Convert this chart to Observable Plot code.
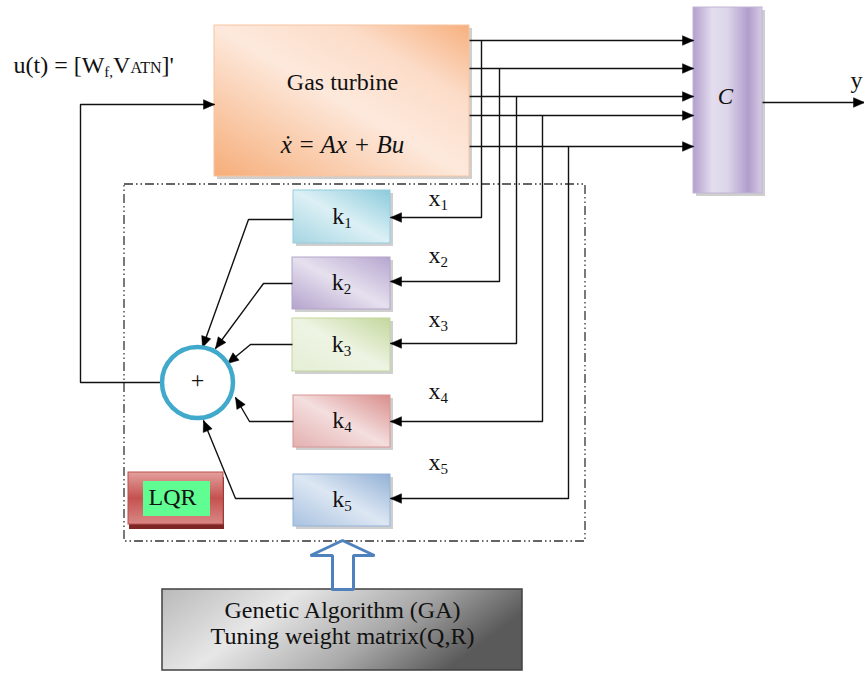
<!DOCTYPE html>
<html><head><meta charset="utf-8">
<script src="https://cdn.jsdelivr.net/npm/d3@7"></script>
<script src="https://cdn.jsdelivr.net/npm/@observablehq/plot@0.6"></script>
<style>body{margin:0;background:#fff}</style>
</head><body><div id="chart"></div>
<script>
// ---------- diagram content ----------
const blocks = [
  {id:"gt",  x1:214, y1:25,  x2:469, y2:176},
  {id:"c",   x1:693, y1:7,   x2:762, y2:193},
  {id:"k1",  x1:293, y1:190, x2:390, y2:243},
  {id:"k2",  x1:292, y1:257, x2:390, y2:309},
  {id:"k3",  x1:292, y1:318, x2:390, y2:371},
  {id:"k4",  x1:293, y1:395, x2:390, y2:447},
  {id:"k5",  x1:293, y1:474, x2:390, y2:526},
  {id:"lqr", x1:128, y1:472, x2:223, y2:524},
  {id:"ga",  x1:162, y1:589, x2:522, y2:670}
];
const lqrInner = [{x1:143, y1:481, x2:210, y2:516}];
const lqrBox = [{x1:124, y1:184, x2:585, y2:541}];
const sumNode = [{x:197, y:382}];

const outY    = [40, 68, 96, 115, 146];        // state outputs of the gas turbine
const tapX    = [481, 499, 516, 542, 568];     // vertical feedback taps
const inY     = [217, 281, 343, 421, 498];     // rows entering k blocks
const kOutY   = [219, 283, 344, 421, 498];     // rows leaving k blocks
const bendX   = [248, 263, 250, 249, 235];
const sumTips = [[202,347],[215,348],[227,363],[235,397],[203,420]];
const gaArrow = [[332,589],[332,555],[310,555],[342,540],[374,555],[353,555],[353,589],[332,589]];

const kLabels = ["k1","k2","k3","k4","k5"];
const xLabels = ["x1","x2","x3","x4","x5"];
const xLabelY = [198, 255, 319, 391, 462];
const uLabel = "u(t) = [Wf,VATN]'";

// ---------- styles ----------
const grads = {
  gt:  {dir:[0,1,1,0], stops:[[0,"#f6ad79"],[0.5,"#fde9dc"],[0.75,"#fcdcc8"],[1,"#f6b07e"]], stroke:"#f8c4a0"},
  c:   {dir:[0,0,1,0], stops:[[0,"#b29fcc"],[0.28,"#e4ddee"],[0.5,"#ddd5ea"],[0.8,"#b19dcb"],[1,"#d6cce6"]], stroke:"#c2b4d6"},
  k1:  {dir:[0,1,1,0], stops:[[0,"#a5d5e2"],[0.5,"#dcf0f5"],[1,"#8ccbdc"]], stroke:"#93cddd"},
  k2:  {dir:[0,1,1,0], stops:[[0,"#b4a3cd"],[0.5,"#e6e0ee"],[1,"#b6a6cf"]], stroke:"#b4a5cc"},
  k3:  {dir:[0,1,1,0], stops:[[0,"#e5eed6"],[0.5,"#eef4e3"],[1,"#c4d79d"]], stroke:"#c3d69b"},
  k4:  {dir:[0,1,1,0], stops:[[0,"#e3b0af"],[0.5,"#f4dede"],[1,"#d88e8c"]], stroke:"#da9694"},
  k5:  {dir:[0,1,1,0], stops:[[0,"#a9c2e0"],[0.5,"#dde7f3"],[1,"#93b1d6"]], stroke:"#95b3d7"},
  lqr: {dir:[0,0,0,1], stops:[[0,"#e3a09e"],[0.5,"#c4524f"],[1,"#d98886"]], stroke:"#b9504d"},
  ga:  {dir:[0,0,1,0.3], stops:[[0,"#b9b9b9"],[0.35,"#e7e7e7"],[0.7,"#a9a9a9"],[1,"#5a5a5a"]], stroke:"#404040"}
};

// ---------- derived geometry ----------
const wires = [];
outY.forEach((y,i) => wires.push({id:"o"+i, pts:[[469,y],[693,y]]}));
tapX.forEach((x,i) => wires.push({id:"t"+i, pts:[[x,outY[i]],[x,inY[i]],[390,inY[i]]]}));
kOutY.forEach((y,i) => wires.push({id:"s"+i, pts:[[blocks[i+2].x1,y],[bendX[i],y],sumTips[i]]}));
wires.push({id:"fb", pts:[[160,382],[80,382],[80,104],[214,104]]});
wires.push({id:"yo", pts:[[762,102],[864,102]]});

const wireRows = wires.flatMap(w => w.pts.map(([x,y]) => ({id:w.id, x, y})));
function head(id, from, tip, L=11, Wd=4.8) {
  const dx = tip[0]-from[0], dy = tip[1]-from[1], len = Math.hypot(dx,dy);
  const ux = dx/len, uy = dy/len, nx = -uy, ny = ux;
  const bx = tip[0]-L*ux, by = tip[1]-L*uy;
  return [[tip[0],tip[1]],[bx+Wd*nx,by+Wd*ny],[bx-Wd*nx,by-Wd*ny],[tip[0],tip[1]]].map(([x,y]) => ({id, x, y}));
}
const heads = wires.flatMap(w => head(w.id, w.pts[w.pts.length-2], w.pts[w.pts.length-1]));
const arrowRows = gaArrow.map(([x,y]) => ({x,y}));

const serif = "Liberation Serif, Times New Roman, serif";
const kText = kLabels.map((t,i) => ({text:t, x:(blocks[i+2].x1+blocks[i+2].x2)/2, y:(blocks[i+2].y1+blocks[i+2].y2)/2 - 1}));
const xText = xLabels.map((t,i) => ({text:t, x:428, y:xLabelY[i]}));
const mainText = [
  {text:"Gas turbine", x:342, y:82},
  {text:"+", x:197, y:380},
  {text:"Genetic Algorithm (GA)", x:342, y:610},
  {text:"Tuning weight matrix(Q,R)", x:342, y:636},
  {text:"LQR", x:172, y:497}
];
const italicText = [
  {text:"x\u0307 = Ax + Bu", x:342, y:144, size:25},
  {text:"C", x:725, y:96, size:23}
];

const marks = [
  Plot.rect(lqrBox, {x1:"x1", y1:"y1", x2:"x2", y2:"y2", fill:"none", stroke:"#333", strokeWidth:1.3, strokeDasharray:"9,3,1.5,3,1.5,3"}),
  Plot.rect(blocks.filter(b => b.id !== "lqr" && b.id !== "ga"), {x1:"x1", y1:"y1", x2:"x2", y2:"y2", dx:3, dy:3, fill:"#cfcfcf"}),
  Plot.rect(blocks.filter(b => b.id === "lqr"), {x1:"x1", y1:"y1", x2:"x2", y2:"y2", dx:1, dy:5, fill:"#7e2624"}),
  ...blocks.map(b => Plot.rect([b], {x1:"x1", y1:"y1", x2:"x2", y2:"y2", fill:`url(#g-${b.id})`, stroke:grads[b.id].stroke, strokeWidth: b.id==="ga" ? 1.5 : 1})),
  Plot.rect(lqrInner, {x1:"x1", y1:"y1", x2:"x2", y2:"y2", fill:"#5ffd92"}),
  Plot.line(wireRows, {x:"x", y:"y", z:"id", stroke:"#111", strokeWidth:1.4, strokeLinecap:"butt", strokeLinejoin:"miter"}),
  Plot.line(heads, {x:"x", y:"y", z:"id", fill:"#000", stroke:"#000", strokeWidth:0.5}),
  Plot.dot(sumNode, {x:"x", y:"y", r:35.5, fill:"white", stroke:"#41a9cc", strokeWidth:4.5}),
  Plot.line(arrowRows, {x:"x", y:"y", fill:"white", stroke:"#4f81bd", strokeWidth:3, strokeLinejoin:"miter"}),
  Plot.text(mainText, {x:"x", y:"y", text:"text", fontSize:24, fontFamily:serif, fill:"#111"}),
  Plot.text(italicText, {x:"x", y:"y", text:"text", fontSize:"size", fontStyle:"italic", fontFamily:serif, fill:"#111"}),
  Plot.text(kText, {x:"x", y:"y", text:"text", fontSize:24, fontFamily:serif, fill:"#111"}),
  Plot.text(xText, {x:"x", y:"y", text:"text", fontSize:24, textAnchor:"start", fontFamily:serif, fill:"#111"}),
  Plot.text([{text:uLabel, x:13, y:65}], {x:"x", y:"y", text:"text", fontSize:24, textAnchor:"start", fontFamily:serif, fill:"#111"}),
  Plot.text([{text:"y", x:850, y:80}], {x:"x", y:"y", text:"text", fontSize:24, textAnchor:"start", fontFamily:serif, fill:"#111"})
];

const svg = Plot.plot({
  width:864, height:673, margin:0,
  x:{domain:[0,864], axis:null},
  y:{domain:[0,673], reverse:true, axis:null},
  style:{background:"white", fontFamily:serif},
  marks
});

// gradients
const defs = d3.select(svg).insert("defs", ":first-child");
for (const [id, g] of Object.entries(grads)) {
  const lg = defs.append("linearGradient").attr("id", "g-"+id)
    .attr("x1", g.dir[0]).attr("y1", g.dir[1]).attr("x2", g.dir[2]).attr("y2", g.dir[3]);
  g.stops.forEach(([o,c]) => lg.append("stop").attr("offset", o).attr("stop-color", c));
}

// subscripts / small caps
const rich = {[uLabel]: [["u(t) = [W","n"],["f,","sub"],["V","n"],["ATN","sc"],["]'","n"]]};
[...kLabels, ...xLabels].forEach(t => rich[t] = [[t[0],"n"],[t.slice(1),"sub"]]);
d3.select(svg).selectAll("text").each(function() {
  const parts = rich[this.textContent];
  if (!parts) return;
  const t = d3.select(this); t.text(null);
  let cur = 0;
  for (const [s, kind] of parts) {
    const shift = kind === "sub" ? 4 : 0;
    const sp = t.append("tspan").attr("dy", shift - cur).text(s);
    if (kind !== "n") sp.attr("font-size", kind === "sub" ? 15 : 16);
    cur = shift;
  }
});

document.getElementById("chart").appendChild(svg);
</script>
</body></html>
